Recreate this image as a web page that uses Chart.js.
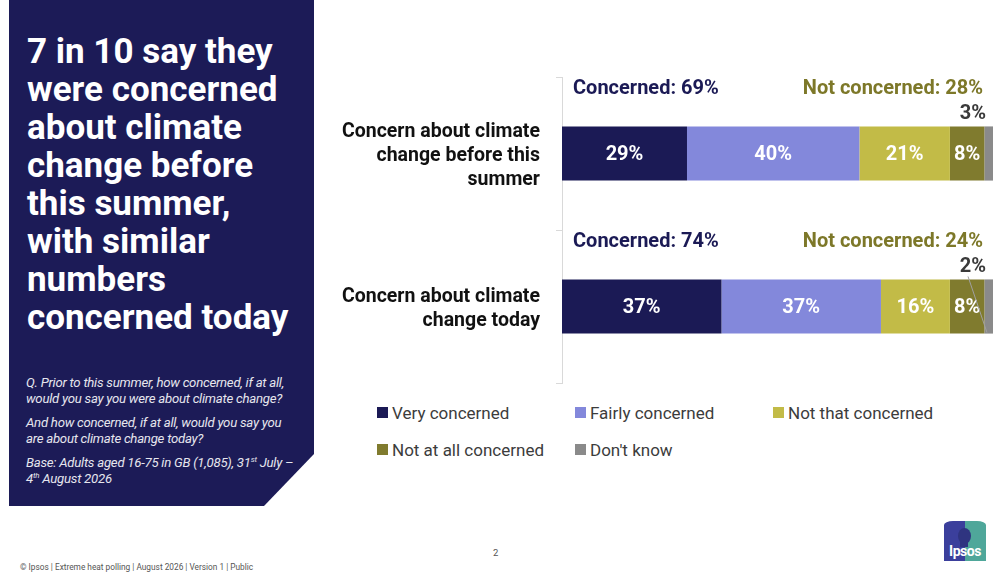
<!DOCTYPE html>
<html>
<head>
<meta charset="utf-8">
<script src="https://cdn.jsdelivr.net/npm/chart.js@4/dist/chart.umd.min.js"></script>
<style>
	html, body { margin: 0; padding: 0; background: #fff; }
	body { width: 1000px; height: 573px; position: relative; overflow: hidden; font-family: Roboto, "Noto Sans", sans-serif; }
	#panel {
		position: absolute; left: 9px; top: 0; width: 305px; height: 506px;
		background: #1c1b57;
		clip-path: polygon(0 0, 100% 0, 100% 454px, 255px 100%, 0 100%);
	}
	#title {
		position: absolute; left: 18px; top: 33px; margin: 0;
		color: #fff; font-size: 35px; font-weight: 700; line-height: 38px;
	}
	.note {
		position: absolute; left: 17px; margin: 0; color: #e6e6ee; white-space: nowrap;
		font-style: italic; font-size: 13.2px; line-height: 16px; letter-spacing: -0.25px;
	}
	#chartWrap { position: absolute; left: 330px; top: 60px; width: 670px; height: 340px; }
	#legend {
		position: absolute; left: 377px; top: 402px;
		display: grid; grid-template-columns: 198px 198px 198px; row-gap: 16px;
		font-size: 17px; color: #3c3c3c;
	}
	.item { display: flex; align-items: center; height: 21px; }
	.box { width: 11px; height: 11px; margin-right: 4px; }
	#footer { position: absolute; left: 20px; top: 562px; font-size: 8.3px; color: #555; }
	#page { position: absolute; left: 493px; top: 547px; font-size: 9.5px; color: #555; }
	#logo { position: absolute; left: 944px; top: 521px; width: 42px; height: 40px; overflow: hidden; border-radius: 9px 9px 0 0 / 4px 4px 0 0; }
	#logo .l { position: absolute; left: 0; top: 0; width: 21px; height: 40px; background: #3b3f9c; }
	#logo .r { position: absolute; left: 21px; top: 0; width: 21px; height: 40px; background: #4fa79a; }
	#logo .head { position: absolute; left: 14px; top: 7px; width: 13px; height: 16px; border-radius: 50%; background: #2f3480; }
	#logo .neck { position: absolute; left: 16px; top: 20px; width: 8px; height: 6px; background: #2f3480; }
	#logo .t { position: absolute; left: 0; top: 22px; width: 42px; text-align: center; color: #fff; font-weight: 700; font-size: 14px; letter-spacing: -0.5px; }
</style>
</head>
<body>
<div id="panel">
	<h1 id="title">7 in 10 say they<br>were concerned<br>about climate<br>change before<br>this summer,<br>with similar<br>numbers<br>concerned today</h1>
	<p class="note" style="top:375px">Q. Prior to this summer, how concerned, if at all,<br>would you say you were about climate change?</p>
	<p class="note" style="top:415px">And how concerned, if at all, would you say you<br>are about climate change today?</p>
	<p class="note" style="top:455px">Base: Adults aged 16-75 in GB (1,085), 31<sup style="font-size:8px;line-height:0">st</sup> July –<br>4<sup style="font-size:8px;line-height:0">th</sup> August 2026</p>
</div>

<div id="chartWrap"><canvas id="concernChart" width="670" height="340"></canvas></div>
<div id="legend"></div>

<div id="footer">© Ipsos | Extreme heat polling | August 2026 | Version 1 | Public</div>
<div id="page">2</div>
<div id="logo"><div class="l"></div><div class="r"></div><div class="head"></div><div class="neck"></div><div class="t">Ipsos</div></div>

<script>
// categories and values (percent)
var categories = [
	['Concern about climate', 'change before this', 'summer'],
	['Concern about climate', 'change today']
];
var seriesNames = ['Very concerned', 'Fairly concerned', 'Not that concerned', 'Not at all concerned', "Don't know"];
var veryConcerned = [29, 37];
var fairlyConcerned = [40, 37];
var notThatConcerned = [21, 16];
var notAtAllConcerned = [8, 8];
var dontKnow = [3, 2];
var concernedTotal = [69, 74];
var notConcernedTotal = [28, 24];

var colors = ['#1b1a55', '#8388db', '#c2bb47', '#807b2e', '#8a8a8a'];
var series = [veryConcerned, fairlyConcerned, notThatConcerned, notAtAllConcerned, dontKnow];
var fontFamily = 'Roboto, "Noto Sans", sans-serif';

var datasets = series.map(function(values, i){
	return {
		label: seriesNames[i],
		data: values,
		backgroundColor: colors[i],
		borderWidth: 0,
		barPercentage: 0.354,
		categoryPercentage: 1
	};
});

// labels on and above the bars
var barLabels = {
	id: 'barLabels',
	afterDatasetsDraw: function(chart){
		var ctx = chart.ctx;
		var area = chart.chartArea;
		var last = chart.data.datasets.length - 1;
		ctx.save();
		ctx.textBaseline = 'middle';
		ctx.font = 'bold 20px ' + fontFamily;
		chart.data.datasets.forEach(function(ds, i){
			chart.getDatasetMeta(i).data.forEach(function(bar, j){
				var v = ds.data[j];
				if(i < last){
					ctx.fillStyle = '#fff';
					ctx.textAlign = 'center';
					ctx.fillText(v + '%', (bar.x + bar.base) / 2, bar.y + 1);
				} else {
					var top = bar.y - bar.height / 2;
					ctx.fillStyle = '#3a3a3a';
					ctx.textAlign = 'right';
					ctx.fillText(v + '%', area.right - 7, top - 12);
					if(v <= 2){
						ctx.strokeStyle = '#a0a0a0';
						ctx.lineWidth = 1;
						ctx.beginPath();
						ctx.moveTo(area.right - 25, top - 3);
						ctx.lineTo(area.right - 6, top + bar.height - 1);
						ctx.stroke();
					}
				}
			});
		});
		// group totals
		chart.getDatasetMeta(0).data.forEach(function(bar, j){
			var y = bar.y - bar.height / 2 - 37;
			ctx.textAlign = 'left';
			ctx.fillStyle = '#1b1a55';
			ctx.fillText('Concerned: ' + concernedTotal[j] + '%', area.left + 11, y);
			ctx.textAlign = 'right';
			ctx.fillStyle = '#7d7829';
			ctx.fillText('Not concerned: ' + notConcernedTotal[j] + '%', area.right - 10, y);
		});
		ctx.restore();
	}
};

var chart = new Chart(document.getElementById('concernChart'), {
	type: 'bar',
	data: { labels: categories, datasets: datasets },
	options: {
		indexAxis: 'y',
		responsive: false,
		animation: false,
		layout: { padding: { top: 17, right: 7, bottom: 17, left: 0 } },
		plugins: { legend: { display: false }, tooltip: { enabled: false } },
		scales: {
			x: { stacked: true, min: 0, max: 100, display: false },
			y: {
				stacked: true,
				afterFit: function(scale){
					scale.width = 232;
					scale.paddingTop = 0;
					scale.paddingBottom = 0;
				},
				border: { color: '#d9d9d9' },
				grid: { drawOnChartArea: false, tickLength: 6, color: '#d9d9d9' },
				ticks: {
					padding: 16,
					labelOffset: 3,
					color: '#111',
					font: { family: fontFamily, size: 19.5, weight: 'bold', lineHeight: 1.23 }
				}
			}
		}
	},
	plugins: [barLabels]
});

// legend built from the datasets
var legend = document.getElementById('legend');
chart.data.datasets.forEach(function(ds){
	var item = document.createElement('div');
	item.className = 'item';
	item.innerHTML = '<span class="box" style="background:' + ds.backgroundColor + '"></span>' + ds.label;
	legend.appendChild(item);
});
</script>
</body>
</html>
